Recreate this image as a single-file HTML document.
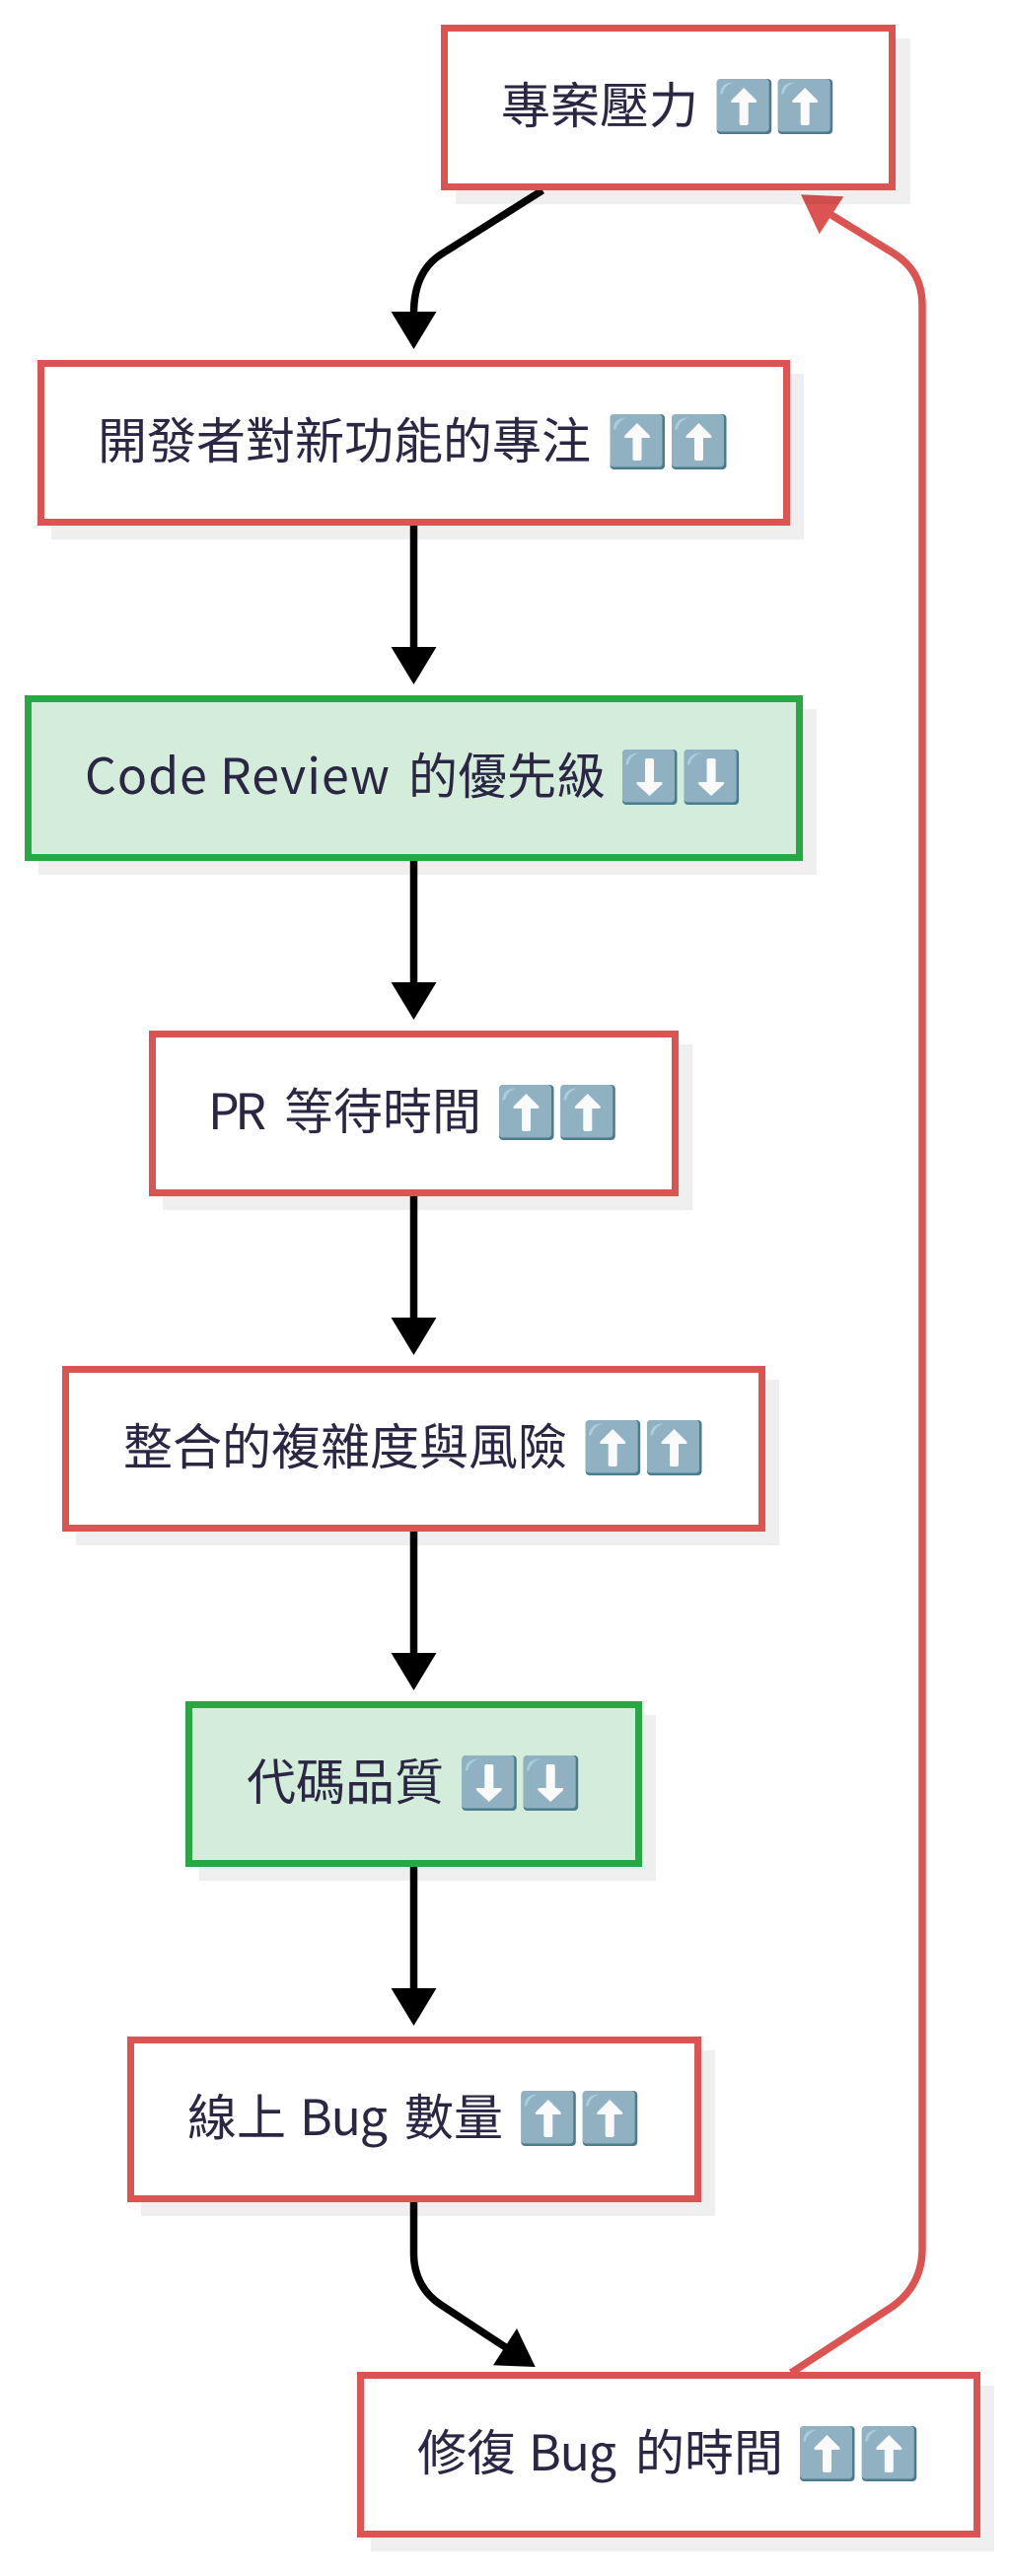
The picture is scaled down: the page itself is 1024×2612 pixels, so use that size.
<!DOCTYPE html>
<html lang="zh-Hant">
<head>
<meta charset="utf-8">
<title>Diagram</title>
<style>
html,body{margin:0;padding:0;background:#fff;width:1024px;height:2612px;overflow:hidden}
svg{display:block}
text{font-family:"Noto Sans CJK TC","Liberation Sans",sans-serif;font-size:50px;fill:#2a2643}
.b{fill:#fff;stroke:#db5451;stroke-width:7}
.g{fill:#d4edda;stroke:#28a745;stroke-width:7}
.s{fill:#000;fill-opacity:.063}
.k{fill:none;stroke:#000;stroke-width:7.5}
.r{fill:none;stroke:#db5451;stroke-width:7.5}
.e1{fill:#4a7c8e}.e2{fill:#8fb1c2}.e3{fill:#a9cfdc}.e4{fill:#fafafa}
</style>
</head>
<body>
<svg xmlns="http://www.w3.org/2000/svg" width="1024" height="2612" viewBox="0 0 1024 2612">
<rect width="1024" height="2612" fill="#fff"/>

<!-- connectors -->
<path class="k" d="M550 193L447 258C430 269 419.5 288 419.5 318"/>
<polygon points="396.5,316 442.5,316 419.5,354" fill="#000"/>
<path class="k" d="M419.5 533V658"/><polygon points="396.5,656 442.5,656 419.5,694" fill="#000"/>
<path class="k" d="M419.5 873V998"/><polygon points="396.5,996 442.5,996 419.5,1034" fill="#000"/>
<path class="k" d="M419.5 1213V1338"/><polygon points="396.5,1336 442.5,1336 419.5,1374" fill="#000"/>
<path class="k" d="M419.5 1553V1678"/><polygon points="396.5,1676 442.5,1676 419.5,1714" fill="#000"/>
<path class="k" d="M419.5 1893V2018"/><polygon points="396.5,2016 442.5,2016 419.5,2054" fill="#000"/>
<path class="k" d="M419.5 2233V2285C419.5 2308 430 2326 447 2337L514 2381"/>
<polygon points="500,2398.3 542.7,2400 524,2361" fill="#000"/>
<path class="r" d="M802 2406L903 2340C925 2325 935 2305 935 2280V310C935 285 925 268 903 255L843 218"/>
<polygon points="812,197.3 855.3,199.3 830.7,237.3" fill="#db5451"/>

<!-- shadows -->
<rect class="s" x="462" y="39" width="461" height="168"/>
<rect class="s" x="52" y="379" width="763" height="168"/>
<rect class="s" x="39" y="719" width="789" height="168"/>
<rect class="s" x="165" y="1059" width="537" height="168"/>
<rect class="s" x="77" y="1399" width="713" height="168"/>
<rect class="s" x="202" y="1739" width="463" height="168"/>
<rect class="s" x="143" y="2079" width="582" height="168"/>
<rect class="s" x="376" y="2419" width="632" height="168"/>

<!-- boxes -->
<rect class="b" x="450.5" y="28.5" width="454" height="161"/>
<rect class="b" x="41.5" y="368.5" width="756" height="161"/>
<rect class="g" x="28.5" y="708.5" width="782" height="161"/>
<rect class="b" x="154.5" y="1048.5" width="530" height="161"/>
<rect class="b" x="66.5" y="1388.5" width="706" height="161"/>
<rect class="g" x="191.5" y="1728.5" width="456" height="161"/>
<rect class="b" x="132.5" y="2068.5" width="575" height="161"/>
<rect class="b" x="365.5" y="2408.5" width="625" height="161"/>

<!-- labels -->
<text x="508" y="125">專案壓力</text>
<text x="99" y="465">開發者對新功能的專注</text>
<text x="86" y="805" textLength="309" lengthAdjust="spacing">Code Review</text>
<text x="414" y="805">的優先級</text>
<text x="211" y="1145" textLength="59" lengthAdjust="spacing">PR</text>
<text x="288" y="1145">等待時間</text>
<text x="125" y="1485">整合的複雜度與風險</text>
<text x="250" y="1825">代碼品質</text>
<text x="190" y="2165">線上</text>
<text x="304" y="2165" textLength="89" lengthAdjust="spacing">Bug</text>
<text x="410" y="2165">數量</text>
<text x="423" y="2505">修復</text>
<text x="536" y="2505" textLength="89" lengthAdjust="spacing">Bug</text>
<text x="644" y="2505">的時間</text>

<!-- arrow icons -->
<g transform="translate(726.7,80)"><rect class="e1" width="55.5" height="56" rx="4"/><rect class="e2" width="53" height="53.5" rx="3.5"/><path class="e3" d="M3.5 16C3.5 8 8 3.5 17 3.5C10 6 7 10 6 15Z"/><path class="e4" d="M27.5 9L40 21.5Q41.5 24 39 24H32V45Q32 47 30 47H25Q23 47 23 45V24H16Q13.5 24 15 21.5Z"/></g>
<g transform="translate(788.7,80)"><rect class="e1" width="55.5" height="56" rx="4"/><rect class="e2" width="53" height="53.5" rx="3.5"/><path class="e3" d="M3.5 16C3.5 8 8 3.5 17 3.5C10 6 7 10 6 15Z"/><path class="e4" d="M27.5 9L40 21.5Q41.5 24 39 24H32V45Q32 47 30 47H25Q23 47 23 45V24H16Q13.5 24 15 21.5Z"/></g>

<g transform="translate(618.5,420)"><rect class="e1" width="55.5" height="56" rx="4"/><rect class="e2" width="53" height="53.5" rx="3.5"/><path class="e3" d="M3.5 16C3.5 8 8 3.5 17 3.5C10 6 7 10 6 15Z"/><path class="e4" d="M27.5 9L40 21.5Q41.5 24 39 24H32V45Q32 47 30 47H25Q23 47 23 45V24H16Q13.5 24 15 21.5Z"/></g>
<g transform="translate(681,420)"><rect class="e1" width="55.5" height="56" rx="4"/><rect class="e2" width="53" height="53.5" rx="3.5"/><path class="e3" d="M3.5 16C3.5 8 8 3.5 17 3.5C10 6 7 10 6 15Z"/><path class="e4" d="M27.5 9L40 21.5Q41.5 24 39 24H32V45Q32 47 30 47H25Q23 47 23 45V24H16Q13.5 24 15 21.5Z"/></g>

<g transform="translate(631,760)"><rect class="e1" width="55.5" height="56" rx="4"/><rect class="e2" width="53" height="53.5" rx="3.5"/><path class="e3" d="M3.5 16C3.5 8 8 3.5 17 3.5C10 6 7 10 6 15Z"/><path class="e4" d="M25 9H30Q32 9 32 11V33H39Q41.5 33 40 35.5L27.5 47L15 35.5Q13.5 33 16 33H23V11Q23 9 25 9Z"/></g>
<g transform="translate(693.6,760)"><rect class="e1" width="55.5" height="56" rx="4"/><rect class="e2" width="53" height="53.5" rx="3.5"/><path class="e3" d="M3.5 16C3.5 8 8 3.5 17 3.5C10 6 7 10 6 15Z"/><path class="e4" d="M25 9H30Q32 9 32 11V33H39Q41.5 33 40 35.5L27.5 47L15 35.5Q13.5 33 16 33H23V11Q23 9 25 9Z"/></g>

<g transform="translate(506,1100)"><rect class="e1" width="55.5" height="56" rx="4"/><rect class="e2" width="53" height="53.5" rx="3.5"/><path class="e3" d="M3.5 16C3.5 8 8 3.5 17 3.5C10 6 7 10 6 15Z"/><path class="e4" d="M27.5 9L40 21.5Q41.5 24 39 24H32V45Q32 47 30 47H25Q23 47 23 45V24H16Q13.5 24 15 21.5Z"/></g>
<g transform="translate(568.3,1100)"><rect class="e1" width="55.5" height="56" rx="4"/><rect class="e2" width="53" height="53.5" rx="3.5"/><path class="e3" d="M3.5 16C3.5 8 8 3.5 17 3.5C10 6 7 10 6 15Z"/><path class="e4" d="M27.5 9L40 21.5Q41.5 24 39 24H32V45Q32 47 30 47H25Q23 47 23 45V24H16Q13.5 24 15 21.5Z"/></g>

<g transform="translate(593.7,1440)"><rect class="e1" width="55.5" height="56" rx="4"/><rect class="e2" width="53" height="53.5" rx="3.5"/><path class="e3" d="M3.5 16C3.5 8 8 3.5 17 3.5C10 6 7 10 6 15Z"/><path class="e4" d="M27.5 9L40 21.5Q41.5 24 39 24H32V45Q32 47 30 47H25Q23 47 23 45V24H16Q13.5 24 15 21.5Z"/></g>
<g transform="translate(656,1440)"><rect class="e1" width="55.5" height="56" rx="4"/><rect class="e2" width="53" height="53.5" rx="3.5"/><path class="e3" d="M3.5 16C3.5 8 8 3.5 17 3.5C10 6 7 10 6 15Z"/><path class="e4" d="M27.5 9L40 21.5Q41.5 24 39 24H32V45Q32 47 30 47H25Q23 47 23 45V24H16Q13.5 24 15 21.5Z"/></g>

<g transform="translate(468.3,1780)"><rect class="e1" width="55.5" height="56" rx="4"/><rect class="e2" width="53" height="53.5" rx="3.5"/><path class="e3" d="M3.5 16C3.5 8 8 3.5 17 3.5C10 6 7 10 6 15Z"/><path class="e4" d="M25 9H30Q32 9 32 11V33H39Q41.5 33 40 35.5L27.5 47L15 35.5Q13.5 33 16 33H23V11Q23 9 25 9Z"/></g>
<g transform="translate(530.7,1780)"><rect class="e1" width="55.5" height="56" rx="4"/><rect class="e2" width="53" height="53.5" rx="3.5"/><path class="e3" d="M3.5 16C3.5 8 8 3.5 17 3.5C10 6 7 10 6 15Z"/><path class="e4" d="M25 9H30Q32 9 32 11V33H39Q41.5 33 40 35.5L27.5 47L15 35.5Q13.5 33 16 33H23V11Q23 9 25 9Z"/></g>

<g transform="translate(528.3,2120)"><rect class="e1" width="55.5" height="56" rx="4"/><rect class="e2" width="53" height="53.5" rx="3.5"/><path class="e3" d="M3.5 16C3.5 8 8 3.5 17 3.5C10 6 7 10 6 15Z"/><path class="e4" d="M27.5 9L40 21.5Q41.5 24 39 24H32V45Q32 47 30 47H25Q23 47 23 45V24H16Q13.5 24 15 21.5Z"/></g>
<g transform="translate(590.7,2120)"><rect class="e1" width="55.5" height="56" rx="4"/><rect class="e2" width="53" height="53.5" rx="3.5"/><path class="e3" d="M3.5 16C3.5 8 8 3.5 17 3.5C10 6 7 10 6 15Z"/><path class="e4" d="M27.5 9L40 21.5Q41.5 24 39 24H32V45Q32 47 30 47H25Q23 47 23 45V24H16Q13.5 24 15 21.5Z"/></g>

<g transform="translate(811,2460)"><rect class="e1" width="55.5" height="56" rx="4"/><rect class="e2" width="53" height="53.5" rx="3.5"/><path class="e3" d="M3.5 16C3.5 8 8 3.5 17 3.5C10 6 7 10 6 15Z"/><path class="e4" d="M27.5 9L40 21.5Q41.5 24 39 24H32V45Q32 47 30 47H25Q23 47 23 45V24H16Q13.5 24 15 21.5Z"/></g>
<g transform="translate(873.8,2460)"><rect class="e1" width="55.5" height="56" rx="4"/><rect class="e2" width="53" height="53.5" rx="3.5"/><path class="e3" d="M3.5 16C3.5 8 8 3.5 17 3.5C10 6 7 10 6 15Z"/><path class="e4" d="M27.5 9L40 21.5Q41.5 24 39 24H32V45Q32 47 30 47H25Q23 47 23 45V24H16Q13.5 24 15 21.5Z"/></g>
</svg>
</body>
</html>
